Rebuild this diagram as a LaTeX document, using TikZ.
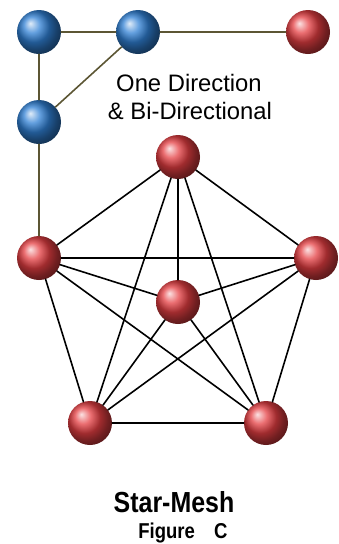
\documentclass[tikz,border=0pt]{standalone}
\usepackage{fontspec}
\newfontfamily\notefont{Liberation Sans}
\newfontfamily\captfont[FakeStretch=0.86]{Liberation Sans Bold}
\usetikzlibrary{arrows.meta}
\definecolor{ballred}{RGB}{228,62,66}
\definecolor{ballblue}{RGB}{48,128,212}
\definecolor{linkolive}{RGB}{92,86,52}
\begin{document}
\begin{tikzpicture}[line cap=round,line join=round,x=1pt,y=-1pt,
  ball/.style={circle,inner sep=0pt,minimum size=44pt,shading=ball},
  redball/.style={ball,ball color=ballred},
  blueball/.style={ball,ball color=ballblue},
  oneway/.style={draw=linkolive,line width=1.6pt},
  mesh/.style={draw=black,line width=1.6pt}]
\useasboundingbox (0,0) rectangle (339,544);
\node [blueball] (b1) at (39,32) {};
\node [blueball] (b2) at (138,32) {};
\node [blueball] (b3) at (39,122) {};
\node [redball] (r0) at (308,32) {};
\node [redball] (top) at (178,157) {};
\node [redball] (lft) at (39,258) {};
\node [redball] (rgt) at (316,258) {};
\node [redball] (mid) at (178,302) {};
\node [redball] (bl) at (90,423) {};
\node [redball] (br) at (266,423) {};
\draw [oneway] (b1) -- (b2);
\draw [oneway] (b2) -- (r0);
\draw [oneway] (b1) -- (b3);
\draw [oneway] (b2) -- (b3);
\draw [oneway] (b3) -- (lft);
\foreach \a/\b in {top/lft,top/rgt,top/mid,top/bl,top/br,lft/rgt,lft/mid,lft/bl,lft/br,rgt/mid,rgt/bl,rgt/br,mid/bl,mid/br,bl/br}
  \draw [mesh] (\a) -- (\b);
\node [anchor=base,font=\notefont\fontsize{23.8}{28}\selectfont] (note1) at (189,91) {One Direction};
\node [anchor=base,font=\notefont\fontsize{23.8}{28}\selectfont] (note2) at (190,119) {\& Bi-Directional};
\node [anchor=base,font=\captfont\fontsize{29}{33}\selectfont] (capt1) at (174,512) {Star-Mesh};
\node [anchor=base,font=\captfont\fontsize{21.5}{24}\selectfont] (capt2) at (183,538) {Figure\hspace{0.9em}C};
\end{tikzpicture}
\end{document}
